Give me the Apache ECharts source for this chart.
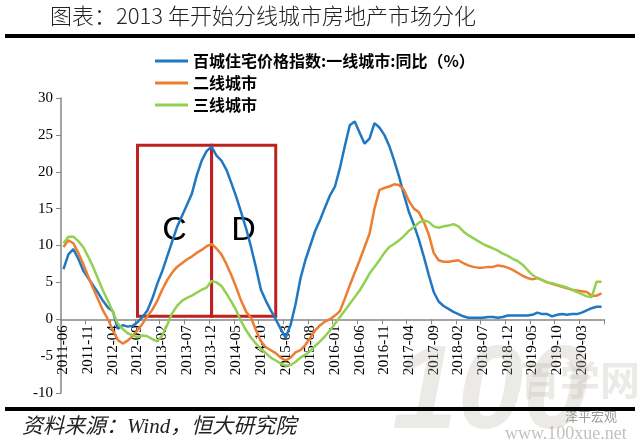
<!DOCTYPE html>
<html>
<head>
<meta charset="utf-8">
<script src="https://cdn.jsdelivr.net/npm/echarts@6/dist/echarts.min.js"></script>
<style>
html,body{margin:0;padding:0;background:#fff;}
#c{width:640px;height:448px;}
</style>
</head>
<body>
<div id="c"></div>
<script>
var months = [
'2011-06','2011-07','2011-08','2011-09','2011-10','2011-11','2011-12',
'2012-01','2012-02','2012-03','2012-04','2012-05','2012-06','2012-07','2012-08','2012-09','2012-10','2012-11','2012-12',
'2013-01','2013-02','2013-03','2013-04','2013-05','2013-06','2013-07','2013-08','2013-09','2013-10','2013-11','2013-12',
'2014-01','2014-02','2014-03','2014-04','2014-05','2014-06','2014-07','2014-08','2014-09','2014-10','2014-11','2014-12',
'2015-01','2015-02','2015-03','2015-04','2015-05','2015-06','2015-07','2015-08','2015-09','2015-10','2015-11','2015-12',
'2016-01','2016-02','2016-03','2016-04','2016-05','2016-06','2016-07','2016-08','2016-09','2016-10','2016-11','2016-12',
'2017-01','2017-02','2017-03','2017-04','2017-05','2017-06','2017-07','2017-08','2017-09','2017-10','2017-11','2017-12',
'2018-01','2018-02','2018-03','2018-04','2018-05','2018-06','2018-07','2018-08','2018-09','2018-10','2018-11','2018-12',
'2019-01','2019-02','2019-03','2019-04','2019-05','2019-06','2019-07','2019-08','2019-09','2019-10','2019-11','2019-12',
'2020-01','2020-02','2020-03','2020-04','2020-05','2020-06','2020-07'
];

var tier1 = [
 6.8, 8.8, 9.5, 8.2, 6.6, 5.6, 4.6, 3.6, 2.5, 1.6,
 1.1, -1.3, -0.8, -1.0, -0.9, -0.4, 0.3, 1.2, 2.8, 4.8,
 6.5, 8.5, 10.5, 12.5, 14.0, 15.5, 17.0, 19.5, 21.5, 22.8,
 23.4, 22.2, 21.5, 20.3, 18.5, 16.6, 14.5, 12.3, 9.8, 7.0,
 4.0, 2.5, 1.2, 0.0, -1.3, -2.5, -0.8, 2.0, 5.5, 8.0,
 10.0, 12.0, 13.5, 15.2, 16.8, 18.0, 20.5, 23.5, 26.3, 26.8,
 25.3, 23.8, 24.5, 26.6, 26.0, 25.0, 23.5, 21.5, 19.3, 16.8,
 14.5, 12.8, 10.8, 8.5, 6.0, 3.7, 2.4, 1.8, 1.4, 1.0,
 0.7, 0.4, 0.2, 0.2, 0.2, 0.2, 0.3, 0.3, 0.2, 0.3,
 0.5, 0.5, 0.5, 0.5, 0.5, 0.6, 0.9, 0.7, 0.7, 0.4,
 0.6, 0.7, 0.6, 0.7, 0.7, 0.9, 1.2, 1.5, 1.7, 1.7
];

var tier2 = [
 9.8, 10.7, 10.3, 9.0, 7.5, 5.8, 4.2, 2.7, 1.2, 0.0,
 -1.5, -2.8, -3.3, -2.9, -2.3, -1.5, -0.6, 0.4, 1.3, 2.5,
 4.0, 5.3, 6.3, 7.1, 7.6, 8.1, 8.5, 9.0, 9.4, 9.9,
 10.2, 9.6, 8.8, 7.5, 6.0, 4.3, 2.5, 1.0, 0.2, -1.5,
 -3.0, -3.8, -4.2, -4.6, -5.2, -5.6, -5.2, -4.5, -4.2, -3.5,
 -2.5, -1.5, -0.8, -0.3, 0.0, 0.5, 1.1, 2.8, 4.6, 6.3,
 8.0, 9.8, 11.6, 15.0, 17.5, 17.8, 18.0, 18.3, 18.2, 17.5,
 16.0, 15.0, 14.5, 13.2, 11.5, 9.0, 8.0, 7.8, 7.8, 7.9,
 8.0, 7.6, 7.3, 7.1, 7.0, 7.0, 7.1, 7.1, 7.3, 7.2,
 7.0, 6.7, 6.3, 5.9, 5.6, 5.4, 5.6, 5.3, 5.0, 4.8,
 4.6, 4.4, 4.2, 4.0, 3.9, 3.8, 3.7, 3.2, 3.2, 3.5
];

var tier3 = [
 10.3, 11.2, 11.2, 10.6, 9.8, 8.5, 7.1, 5.5, 3.9, 2.5,
 1.0, -0.6, -1.3, -1.9, -2.2, -2.4, -2.2, -2.3, -2.7, -3.0,
 -2.2, -0.8, 0.8, 1.8, 2.5, 2.9, 3.2, 3.6, 4.0, 4.3,
 5.2, 5.0, 4.5, 3.5, 2.4, 1.2, -0.3, -1.5, -2.5, -3.3,
 -4.0, -4.6, -5.2, -5.6, -6.0, -6.3, -6.2, -5.8, -5.2, -4.8,
 -4.3, -3.6, -3.0, -2.3, -1.5, -0.6, 0.3, 1.2, 2.1, 3.0,
 3.9, 5.0, 6.2, 7.1, 8.0, 9.0, 9.8, 10.2, 10.7, 11.3,
 12.0, 12.5, 13.1, 13.4, 13.2, 12.6, 12.4, 12.6, 12.7, 12.9,
 12.6, 11.9, 11.4, 11.0, 10.6, 10.2, 9.9, 9.6, 9.3, 8.9,
 8.6, 8.2, 7.9, 7.4, 6.7, 6.0, 5.6, 5.3, 5.0, 4.9,
 4.7, 4.5, 4.3, 4.0, 3.7, 3.4, 3.1, 3.0, 5.1, 5.1
];

var seriesNames = ['百城住宅价格指数:一线城市:同比（%）', '二线城市', '三线城市'];
var boxC = ['2012-09', '2013-12'];
var boxD = ['2013-12', '2015-01'];
var boxTop = 23.6, boxBottom = 0.4;

var chart = echarts.init(document.getElementById('c'), null, {renderer: 'canvas'});
var serif = '"Liberation Serif", "DejaVu Serif", serif';
var cjk = '"Noto Sans CJK SC", sans-serif';

var boxStyle = {color: 'rgba(0,0,0,0)', borderColor: '#c0201e', borderWidth: 3};
var boxLabel = function (t) {
  return {show: true, position: 'inside', formatter: t, fontSize: 34, color: '#000',
          fontFamily: '"Liberation Sans", "DejaVu Sans", sans-serif'};
};

var yMin = -10, yMax = 30;
var gridTop = 98, gridBottom = 55, chartH = 448;
var plotH = chartH - gridTop - gridBottom;
// shift the category axis up so it sits on the zero line (labels follow it)
var zeroOffset = -plotH * (0 - yMin) / (yMax - yMin);

chart.setOption({
  animation: false,
  backgroundColor: '#fff',
  grid: {left: 61, right: 36, top: gridTop, bottom: gridBottom, containLabel: false},
  legend: {
    orient: 'vertical', left: 150, top: 48,
    itemWidth: 33, itemHeight: 3, itemGap: 6,
    icon: 'rect',
    textStyle: {fontSize: 16, fontWeight: 'bold', color: '#000', fontFamily: cjk},
    data: seriesNames
  },
  xAxis: {
    type: 'category', data: months, boundaryGap: true,
    offset: zeroOffset,
    axisLine: {onZero: false, lineStyle: {color: '#868686', width: 1.5}},
    axisTick: {show: true, interval: 4, length: 5, lineStyle: {color: '#868686'}},
    axisLabel: {interval: 4, rotate: 90, fontSize: 15, color: '#000', fontFamily: serif, margin: 6}
  },
  yAxis: {
    type: 'value', min: yMin, max: yMax, interval: 5,
    splitLine: {show: false},
    axisLine: {show: true, lineStyle: {color: '#868686', width: 1.5}},
    axisTick: {show: true, length: 5, lineStyle: {color: '#868686'}},
    axisLabel: {fontSize: 15, color: '#000', fontFamily: serif, margin: 8}
  },
  series: [
    {
      name: seriesNames[0], type: 'line', data: tier1, symbol: 'none', z: 3,
      lineStyle: {width: 2.5, color: '#1f78c1'}, itemStyle: {color: '#1f78c1'},
      markArea: {
        silent: true,
        data: [
          [{xAxis: boxC[0], yAxis: boxTop, itemStyle: boxStyle, label: boxLabel('C')}, {xAxis: boxC[1], yAxis: boxBottom}],
          [{xAxis: boxD[0], yAxis: boxTop, itemStyle: boxStyle, label: boxLabel('D')}, {xAxis: boxD[1], yAxis: boxBottom}]
        ]
      }
    },
    {
      name: seriesNames[1], type: 'line', data: tier2, symbol: 'none', z: 3,
      lineStyle: {width: 2.5, color: '#ed7d31'}, itemStyle: {color: '#ed7d31'}
    },
    {
      name: seriesNames[2], type: 'line', data: tier3, symbol: 'none', z: 3,
      lineStyle: {width: 2.5, color: '#92d050'}, itemStyle: {color: '#92d050'}
    }
  ],
  graphic: [
    {type: 'text', left: 50, top: 5, z: 10,
     style: {text: '图表：2013 年开始分线城市房地产市场分化', fontSize: 22, fill: '#222', fontFamily: cjk, fontWeight: 300}},
    {type: 'rect', shape: {x: 5, y: 34, width: 630, height: 4}, style: {fill: '#000'}, z: 10},
    {type: 'rect', shape: {x: 5, y: 407, width: 630, height: 4}, style: {fill: '#000'}, z: 10},
    {type: 'text', left: 22, top: 417, z: 10,
     style: {text: '资料来源：Wind，恒大研究院', fontSize: 21, fontStyle: 'italic', fill: '#222',
             fontFamily: '"Liberation Serif", "Noto Sans CJK SC", serif'}},
    {type: 'text', left: 392, top: 336, z: 1,
     style: {text: '100', fontSize: 118, fontWeight: 'bold', fontStyle: 'italic', fill: 'rgba(180,170,160,0.25)',
             fontFamily: '"Liberation Sans", sans-serif'}},
    {type: 'text', left: 520, top: 360, z: 1,
     style: {text: '百学网', fontSize: 40, fontWeight: 'bold', fill: 'rgba(180,170,160,0.25)', fontFamily: cjk}},
    {type: 'text', left: 565, top: 410, z: 11,
     style: {text: '泽平宏观', fontSize: 13, fill: 'rgba(130,130,130,0.8)', fontFamily: cjk}},
    {type: 'text', left: 505, top: 425, z: 11,
     style: {text: 'www.100xue.net', fontSize: 18, fill: 'rgba(150,140,130,0.55)', fontFamily: serif}}
  ]
});
</script>
</body>
</html>
